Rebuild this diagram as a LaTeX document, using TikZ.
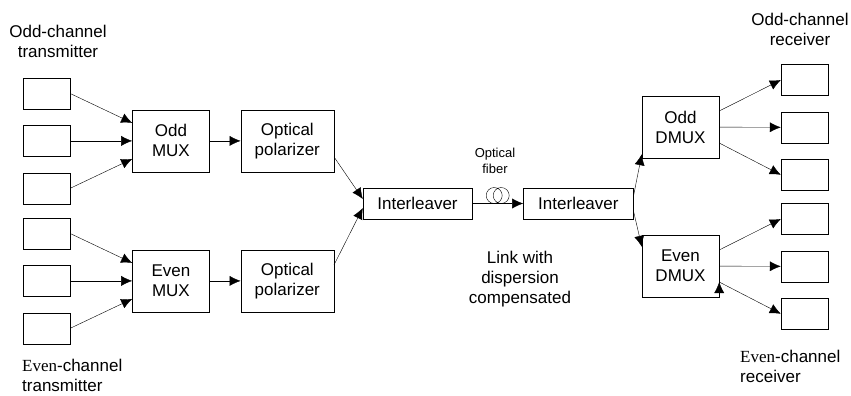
\documentclass[tikz,border=0pt]{standalone}
\usepackage{fontspec}
\setmainfont{Liberation Sans}
\newfontfamily\evenrm{Liberation Serif}
\usetikzlibrary{arrows.meta,positioning}
\tikzset{->, % every connector is directed
>={Latex[length=11pt,width=10pt]}, % filled arrow heads
line width=1pt,
blk/.style={draw, inner sep=0pt, align=center, font=\fontsize{17}{20}\selectfont}, % common look of the boxes
chan/.style={blk, minimum width=47pt, minimum height=31pt}, % transmitter / receiver boxes
mux/.style={blk, minimum width=77pt, minimum height=62pt},
pol/.style={blk, minimum width=93pt, minimum height=62pt},
ilv/.style={blk, minimum height=31pt},
lbl/.style={align=center, inner sep=0pt, font=\fontsize{17}{20}\selectfont},
}

\begin{document}
\begin{tikzpicture}[x=1pt,y=-1pt]
\useasboundingbox (0,0) rectangle (851,396);

% transmitters
\node[chan] (t1) at (46.5,93.5) {};
\node[chan, below=16pt of t1] (t2) {};
\node[chan, below=16pt of t2] (t3) {};
\node[chan] (t4) at (46.5,233.5) {};
\node[chan, below=16pt of t4] (t5) {};
\node[chan, below=16pt of t5] (t6) {};

\node[mux, right=62pt of t2] (mo) {Odd\\MUX};
\node[mux, right=62pt of t5] (me) {Even\\MUX};
\node[pol, right=31pt of mo] (po) {Optical\\polarizer};
\node[pol, right=31pt of me] (pe) {Optical\\polarizer};

\node[ilv, minimum width=109pt] (il1) at (417.5,203.5) {Interleaver};
\node[ilv, minimum width=110pt, right=51pt of il1] (il2) {Interleaver};

\node[mux] (dmo) at (680.5,127) {Odd\\DMUX};
\node[mux] (dme) at (680.5,266) {Even\\DMUX};

% receivers
\node[chan] (r1) at (804.5,80) {};
\node[chan, below=16pt of r1] (r2) {};
\node[chan, below=16pt of r2] (r3) {};
\node[chan] (r4) at (804.5,219) {};
\node[chan, below=16pt of r4] (r5) {};
\node[chan, below=16pt of r5] (r6) {};

% labels
\node[lbl] (txo) at (58,41) {Odd-channel\\transmitter};
\node[lbl, align=left, anchor=west] (txe) at (22,375) {{\evenrm Even}-channel\\transmitter};
\node[lbl] (rxo) at (800,29) {Odd-channel\\receiver};
\node[lbl, align=left, anchor=west] (rxe) at (740,366) {{\evenrm Even}-channel\\receiver};
\node[lbl] (link) at (520,279) {Link with\\dispersion\\compensated};
\node[lbl, font=\fontsize{13}{16}\selectfont] (fib) at (495,161) {Optical\\fiber};

\draw
(t1.east) edge ([yshift=18pt]mo.west)
(t2.east) edge (mo.west)
(t3.east) edge ([yshift=-18pt]mo.west)
(t4.east) edge ([yshift=18pt]me.west)
(t5.east) edge (me.west)
(t6.east) edge ([yshift=-18pt]me.west)
(mo) edge (po)
(me) edge (pe)
([yshift=-16pt]po.east) edge ([yshift=4.5pt]il1.west)
([yshift=16pt]pe.east) edge ([yshift=-4.5pt]il1.west)
(il1) edge (il2)
([yshift=8pt]il2.east) edge ([yshift=4pt]dmo.south west)
([yshift=-8pt]il2.east) edge ([yshift=-12pt]dme.north west)
([yshift=16pt]dmo.east) edge (r1.west)
(dmo) edge (r2)
([yshift=-16pt]dmo.east) edge (r3.west)
([yshift=16pt]dme.east) edge (r4.west)
(dme) edge (r5)
([yshift=-16pt]dme.east) edge (r6.west);

% fiber coil
\path (il1) -- (il2) coordinate[midway] (coil);
\draw[-] ([xshift=-3.5pt,yshift=8pt]coil) circle (8pt)
         ([xshift=3.5pt,yshift=8pt]coil) circle (8pt);

\end{tikzpicture}
\end{document}
